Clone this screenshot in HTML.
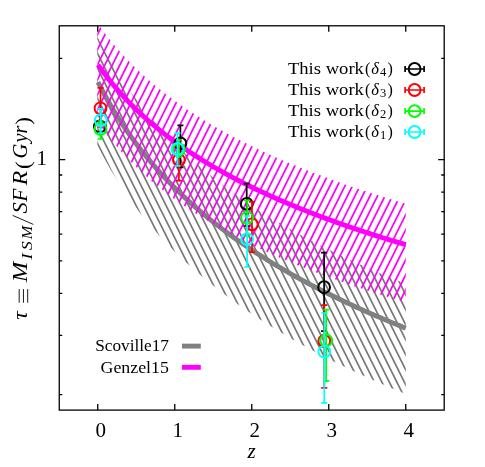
<!DOCTYPE html><html><head><meta charset="utf-8"><style>html,body{margin:0;padding:0;background:#fff}body{width:485px;height:467px;position:relative;overflow:hidden;font-family:"Liberation Serif",serif}</style></head><body><svg width="485" height="467" viewBox="0 0 485 467" style="position:absolute;left:0;top:0;will-change:transform"><defs><clipPath id="cm"><polygon points="97.30,22.79 99.87,26.46 102.44,30.01 105.01,33.45 107.58,36.79 110.15,40.03 112.72,43.18 115.29,46.25 117.86,49.23 120.43,52.14 123.00,54.98 125.57,57.74 128.14,60.44 130.72,63.08 133.29,65.65 135.86,68.17 138.43,70.63 141.00,73.04 143.57,75.40 146.14,77.71 148.71,79.98 151.28,82.20 153.85,84.38 156.42,86.51 158.99,88.61 161.56,90.67 164.13,92.69 166.70,94.68 169.27,96.63 171.84,98.55 174.41,100.44 176.98,102.29 179.55,104.12 182.12,105.91 184.69,107.68 187.26,109.43 189.83,111.14 192.41,112.83 194.98,114.50 197.55,116.14 200.12,117.75 202.69,119.35 205.26,120.92 207.83,122.47 210.40,124.00 212.97,125.51 215.54,127.00 218.11,128.47 220.68,129.92 223.25,131.36 225.82,132.77 228.39,134.17 230.96,135.55 233.53,136.92 236.10,138.26 238.67,139.60 241.24,140.91 243.81,142.22 246.38,143.50 248.95,144.78 251.52,146.03 254.10,147.28 256.67,148.51 259.24,149.73 261.81,150.93 264.38,152.13 266.95,153.31 269.52,154.47 272.09,155.63 274.66,156.77 277.23,157.91 279.80,159.03 282.37,160.14 284.94,161.24 287.51,162.33 290.08,163.41 292.65,164.48 295.22,165.54 297.79,166.59 300.36,167.63 302.93,168.66 305.50,169.68 308.07,170.69 310.64,171.70 313.21,172.69 315.79,173.68 318.36,174.65 320.93,175.62 323.50,176.58 326.07,177.54 328.64,178.48 331.21,179.42 333.78,180.35 336.35,181.27 338.92,182.19 341.49,183.09 344.06,183.99 346.63,184.89 349.20,185.77 351.77,186.65 354.34,187.53 356.91,188.39 359.48,189.25 362.05,190.11 364.62,190.95 367.19,191.79 369.76,192.63 372.33,193.46 374.90,194.28 377.48,195.09 380.05,195.91 382.62,196.71 385.19,197.51 387.76,198.30 390.33,199.09 392.90,199.88 395.47,200.65 398.04,201.43 400.61,202.19 403.18,202.95 405.75,203.71 405.75,302.31 403.18,301.55 400.61,300.79 398.04,300.03 395.47,299.25 392.90,298.48 390.33,297.69 387.76,296.90 385.19,296.11 382.62,295.31 380.05,294.51 377.48,293.69 374.90,292.88 372.33,292.06 369.76,291.23 367.19,290.39 364.62,289.55 362.05,288.71 359.48,287.85 356.91,286.99 354.34,286.13 351.77,285.25 349.20,284.37 346.63,283.49 344.06,282.59 341.49,281.69 338.92,280.79 336.35,279.87 333.78,278.95 331.21,278.02 328.64,277.08 326.07,276.14 323.50,275.18 320.93,274.22 318.36,273.25 315.79,272.28 313.21,271.29 310.64,270.30 308.07,269.29 305.50,268.28 302.93,267.26 300.36,266.23 297.79,265.19 295.22,264.14 292.65,263.08 290.08,262.01 287.51,260.93 284.94,259.84 282.37,258.74 279.80,257.63 277.23,256.51 274.66,255.37 272.09,254.23 269.52,253.07 266.95,251.91 264.38,250.73 261.81,249.53 259.24,248.33 256.67,247.11 254.10,245.88 251.52,244.63 248.95,243.38 246.38,242.10 243.81,240.82 241.24,239.51 238.67,238.20 236.10,236.86 233.53,235.52 230.96,234.15 228.39,232.77 225.82,231.37 223.25,229.96 220.68,228.52 218.11,227.07 215.54,225.60 212.97,224.11 210.40,222.60 207.83,221.07 205.26,219.52 202.69,217.95 200.12,216.35 197.55,214.74 194.98,213.10 192.41,211.43 189.83,209.74 187.26,208.03 184.69,206.28 182.12,204.51 179.55,202.72 176.98,200.89 174.41,199.04 171.84,197.15 169.27,195.23 166.70,193.28 164.13,191.29 161.56,189.27 158.99,187.21 156.42,185.11 153.85,182.98 151.28,180.80 148.71,178.58 146.14,176.31 143.57,174.00 141.00,171.64 138.43,169.23 135.86,166.77 133.29,164.25 130.72,161.68 128.14,159.04 125.57,156.34 123.00,153.58 120.43,150.74 117.86,147.83 115.29,144.85 112.72,141.78 110.15,138.63 107.58,135.39 105.01,132.05 102.44,128.61 99.87,125.06 97.30,121.39"/></clipPath><clipPath id="cg"><polygon points="97.30,36.41 99.87,41.47 102.44,46.36 105.01,51.11 107.58,55.71 110.15,60.17 112.72,64.52 115.29,68.74 117.86,72.84 120.43,76.84 123.00,80.74 125.57,84.55 128.14,88.26 130.72,91.88 133.29,95.42 135.86,98.87 138.43,102.26 141.00,105.57 143.57,108.80 146.14,111.98 148.71,115.08 151.28,118.13 153.85,121.12 156.42,124.04 158.99,126.92 161.56,129.74 164.13,132.51 166.70,135.23 169.27,137.90 171.84,140.53 174.41,143.12 176.98,145.66 179.55,148.16 182.12,150.61 184.69,153.03 187.26,155.42 189.83,157.76 192.41,160.07 194.98,162.35 197.55,164.59 200.12,166.80 202.69,168.98 205.26,171.13 207.83,173.25 210.40,175.34 212.97,177.40 215.54,179.43 218.11,181.44 220.68,183.42 223.25,185.38 225.82,187.31 228.39,189.22 230.96,191.10 233.53,192.96 236.10,194.80 238.67,196.62 241.24,198.41 243.81,200.19 246.38,201.94 248.95,203.68 251.52,205.39 254.10,207.09 256.67,208.77 259.24,210.43 261.81,212.07 264.38,213.69 266.95,215.30 269.52,216.89 272.09,218.47 274.66,220.02 277.23,221.57 279.80,223.09 282.37,224.61 284.94,226.10 287.51,227.59 290.08,229.05 292.65,230.51 295.22,231.95 297.79,233.38 300.36,234.79 302.93,236.19 305.50,237.58 308.07,238.96 310.64,240.32 313.21,241.67 315.79,243.01 318.36,244.34 320.93,245.66 323.50,246.96 326.07,248.26 328.64,249.54 331.21,250.82 333.78,252.08 336.35,253.33 338.92,254.57 341.49,255.80 344.06,257.03 346.63,258.24 349.20,259.44 351.77,260.64 354.34,261.82 356.91,263.00 359.48,264.16 362.05,265.32 364.62,266.47 367.19,267.61 369.76,268.74 372.33,269.87 374.90,270.98 377.48,272.09 380.05,273.19 382.62,274.28 385.19,275.36 387.76,276.44 390.33,277.51 392.90,278.57 395.47,279.62 398.04,280.67 400.61,281.71 403.18,282.74 405.75,283.77 405.75,393.97 403.18,392.92 400.61,391.86 398.04,390.79 395.47,389.72 392.90,388.64 390.33,387.55 387.76,386.45 385.19,385.35 382.62,384.24 380.05,383.12 377.48,381.99 374.90,380.86 372.33,379.72 369.76,378.57 367.19,377.41 364.62,376.24 362.05,375.06 359.48,373.87 356.91,372.67 354.34,371.46 351.77,370.25 349.20,369.02 346.63,367.79 344.06,366.54 341.49,365.29 338.92,364.02 336.35,362.75 333.78,361.46 331.21,360.17 328.64,358.87 326.07,357.55 323.50,356.22 320.93,354.89 318.36,353.54 315.79,352.18 313.21,350.81 310.64,349.42 308.07,348.03 305.50,346.62 302.93,345.20 300.36,343.77 297.79,342.32 295.22,340.86 292.65,339.39 290.08,337.90 287.51,336.40 284.94,334.89 282.37,333.36 279.80,331.81 277.23,330.26 274.66,328.68 272.09,327.09 269.52,325.49 266.95,323.86 264.38,322.22 261.81,320.57 259.24,318.89 256.67,317.20 254.10,315.49 251.52,313.77 248.95,312.02 246.38,310.25 243.81,308.47 241.24,306.66 238.67,304.83 236.10,302.98 233.53,301.11 230.96,299.22 228.39,297.30 225.82,295.37 223.25,293.40 220.68,291.41 218.11,289.40 215.54,287.36 212.97,285.30 210.40,283.26 207.83,281.19 205.26,279.08 202.69,276.95 200.12,274.79 197.55,272.60 194.98,270.38 192.41,268.12 189.83,265.82 187.26,263.50 184.69,261.13 182.12,258.73 179.55,256.29 176.98,253.81 174.41,251.28 171.84,248.72 169.27,246.11 166.70,243.45 164.13,240.75 161.56,238.00 158.99,235.19 156.42,232.34 153.85,229.43 151.28,226.46 148.71,223.43 146.14,220.34 143.57,217.19 141.00,213.97 138.43,210.67 135.86,207.31 133.29,203.87 130.72,200.35 128.14,196.74 125.57,193.05 123.00,189.27 120.43,185.39 117.86,181.41 115.29,177.31 112.72,173.11 110.15,168.79 107.58,164.34 105.01,159.76 102.44,155.03 99.87,150.15 97.30,145.11"/></clipPath><clipPath id="fr"><rect x="59.25" y="25.80" width="384.95" height="384.30"/></clipPath></defs><rect width="485" height="467" fill="#fff"/><rect x="59.25" y="25.80" width="384.95" height="384.30" fill="none" stroke="#000" stroke-width="1.3"/><path d="M97.75,410.10v-6M97.75,25.80v6M174.75,410.10v-6M174.75,25.80v6M251.75,410.10v-6M251.75,25.80v6M328.75,410.10v-6M328.75,25.80v6M405.75,410.10v-6M405.75,25.80v6M59.25,58.36h3M444.20,58.36h-3M59.25,174.99h3M444.20,174.99h-3M59.25,192.19h3M444.20,192.19h-3M59.25,211.69h3M444.20,211.69h-3M59.25,234.21h3M444.20,234.21h-3M59.25,260.84h3M444.20,260.84h-3M59.25,293.43h3M444.20,293.43h-3M59.25,335.44h3M444.20,335.44h-3M59.25,394.66h3M444.20,394.66h-3M59.25,159.60h6M444.20,159.60h-6" stroke="#000" stroke-width="1.3" fill="none"/><g clip-path="url(#fr)"><g clip-path="url(#cg)"><path d="M-296.70,0L-63.20,467M-289.20,0L-55.70,467M-281.70,0L-48.20,467M-274.20,0L-40.70,467M-266.70,0L-33.20,467M-259.20,0L-25.70,467M-251.70,0L-18.20,467M-244.20,0L-10.70,467M-236.70,0L-3.20,467M-229.20,0L4.30,467M-221.70,0L11.80,467M-214.20,0L19.30,467M-206.70,0L26.80,467M-199.20,0L34.30,467M-191.70,0L41.80,467M-184.20,0L49.30,467M-176.70,0L56.80,467M-169.20,0L64.30,467M-161.70,0L71.80,467M-154.20,0L79.30,467M-146.70,0L86.80,467M-139.20,0L94.30,467M-131.70,0L101.80,467M-124.20,0L109.30,467M-116.70,0L116.80,467M-109.20,0L124.30,467M-101.70,0L131.80,467M-94.20,0L139.30,467M-86.70,0L146.80,467M-79.20,0L154.30,467M-71.70,0L161.80,467M-64.20,0L169.30,467M-56.70,0L176.80,467M-49.20,0L184.30,467M-41.70,0L191.80,467M-34.20,0L199.30,467M-26.70,0L206.80,467M-19.20,0L214.30,467M-11.70,0L221.80,467M-4.20,0L229.30,467M3.30,0L236.80,467M10.80,0L244.30,467M18.30,0L251.80,467M25.80,0L259.30,467M33.30,0L266.80,467M40.80,0L274.30,467M48.30,0L281.80,467M55.80,0L289.30,467M63.30,0L296.80,467M70.80,0L304.30,467M78.30,0L311.80,467M85.80,0L319.30,467M93.30,0L326.80,467M100.80,0L334.30,467M108.30,0L341.80,467M115.80,0L349.30,467M123.30,0L356.80,467M130.80,0L364.30,467M138.30,0L371.80,467M145.80,0L379.30,467M153.30,0L386.80,467M160.80,0L394.30,467M168.30,0L401.80,467M175.80,0L409.30,467M183.30,0L416.80,467M190.80,0L424.30,467M198.30,0L431.80,467M205.80,0L439.30,467M213.30,0L446.80,467M220.80,0L454.30,467M228.30,0L461.80,467M235.80,0L469.30,467M243.30,0L476.80,467M250.80,0L484.30,467M258.30,0L491.80,467M265.80,0L499.30,467M273.30,0L506.80,467M280.80,0L514.30,467M288.30,0L521.80,467M295.80,0L529.30,467M303.30,0L536.80,467M310.80,0L544.30,467M318.30,0L551.80,467M325.80,0L559.30,467M333.30,0L566.80,467M340.80,0L574.30,467M348.30,0L581.80,467M355.80,0L589.30,467M363.30,0L596.80,467M370.80,0L604.30,467M378.30,0L611.80,467M385.80,0L619.30,467M393.30,0L626.80,467M400.80,0L634.30,467M408.30,0L641.80,467M415.80,0L649.30,467M423.30,0L656.80,467M430.80,0L664.30,467M438.30,0L671.80,467M445.80,0L679.30,467M453.30,0L686.80,467M460.80,0L694.30,467M468.30,0L701.80,467M475.80,0L709.30,467M483.30,0L716.80,467M490.80,0L724.30,467M498.30,0L731.80,467" stroke="#787878" stroke-width="1.7" fill="none"/></g><polyline points="98.00,82.20 100.56,87.20 103.13,92.05 105.69,96.74 108.26,101.30 110.82,105.72 113.39,110.02 115.95,114.20 118.52,118.27 121.08,122.24 123.65,126.10 126.21,129.87 128.78,133.55 131.34,137.14 133.90,140.65 136.47,144.09 139.03,147.44 141.60,150.73 144.16,153.94 146.73,157.09 149.29,160.18 151.86,163.21 154.42,166.17 156.99,169.08 159.55,171.94 162.11,174.74 164.68,177.49 167.24,180.20 169.81,182.86 172.37,185.47 174.94,188.04 177.50,190.56 180.07,193.05 182.63,195.49 185.20,197.90 187.76,200.27 190.32,202.61 192.89,204.90 195.45,207.17 198.02,209.40 200.58,211.60 203.15,213.77 205.71,215.91 208.28,218.02 210.84,220.10 213.41,222.15 215.97,224.17 218.54,226.17 221.10,228.14 223.66,230.09 226.23,232.02 228.79,233.91 231.36,235.79 233.92,237.64 236.49,239.48 239.05,241.29 241.62,243.07 244.18,244.84 246.75,246.59 249.31,248.32 251.88,250.03 254.44,251.72 257.00,253.39 259.57,255.04 262.13,256.68 264.70,258.29 267.26,259.90 269.83,261.48 272.39,263.05 274.96,264.60 277.52,266.14 280.09,267.66 282.65,269.17 285.21,270.66 287.78,272.14 290.34,273.60 292.91,275.05 295.47,276.49 298.04,277.91 300.60,279.32 303.17,280.72 305.73,282.10 308.30,283.47 310.86,284.83 313.43,286.18 315.99,287.52 318.55,288.84 321.12,290.16 323.68,291.46 326.25,292.75 328.81,294.03 331.38,295.30 333.94,296.56 336.51,297.81 339.07,299.05 341.64,300.27 344.20,301.49 346.76,302.70 349.33,303.90 351.89,305.09 354.46,306.27 357.02,307.45 359.59,308.61 362.15,309.77 364.72,310.91 367.28,312.05 369.85,313.18 372.41,314.30 374.98,315.41 377.54,316.52 380.10,317.61 382.67,318.70 385.23,319.78 387.80,320.86 390.36,321.92 392.93,322.98 395.49,324.03 398.06,325.08 400.62,326.12 403.19,327.15 405.75,328.17" stroke="#808080" stroke-width="4.9" fill="none"/><g clip-path="url(#cm)"><path d="M2.05,0L-231.45,467M9.56,0L-223.94,467M17.08,0L-216.42,467M24.59,0L-208.91,467M32.11,0L-201.39,467M39.62,0L-193.88,467M47.14,0L-186.36,467M54.66,0L-178.84,467M62.17,0L-171.33,467M69.69,0L-163.81,467M77.20,0L-156.30,467M84.72,0L-148.78,467M92.23,0L-141.27,467M99.75,0L-133.75,467M107.26,0L-126.24,467M114.78,0L-118.72,467M122.29,0L-111.21,467M129.81,0L-103.69,467M137.32,0L-96.18,467M144.83,0L-88.67,467M152.35,0L-81.15,467M159.86,0L-73.64,467M167.38,0L-66.12,467M174.89,0L-58.61,467M182.41,0L-51.09,467M189.92,0L-43.58,467M197.44,0L-36.06,467M204.95,0L-28.55,467M212.47,0L-21.03,467M219.98,0L-13.52,467M227.50,0L-6.00,467M235.01,0L1.51,467M242.53,0L9.03,467M250.04,0L16.54,467M257.56,0L24.06,467M265.07,0L31.57,467M272.59,0L39.09,467M280.10,0L46.60,467M287.62,0L54.12,467M295.13,0L61.63,467M302.65,0L69.15,467M310.16,0L76.66,467M317.68,0L84.18,467M325.19,0L91.69,467M332.71,0L99.21,467M340.22,0L106.72,467M347.74,0L114.24,467M355.25,0L121.75,467M362.77,0L129.27,467M370.28,0L136.78,467M377.80,0L144.30,467M385.31,0L151.81,467M392.83,0L159.33,467M400.34,0L166.84,467M407.86,0L174.36,467M415.37,0L181.87,467M422.89,0L189.39,467M430.40,0L196.90,467M437.92,0L204.42,467M445.43,0L211.93,467M452.95,0L219.45,467M460.46,0L226.96,467M467.98,0L234.48,467M475.49,0L241.99,467M483.01,0L249.51,467M490.52,0L257.02,467M498.04,0L264.54,467M505.55,0L272.05,467M513.07,0L279.57,467M520.58,0L287.08,467M528.10,0L294.60,467M535.61,0L302.11,467M543.13,0L309.63,467M550.64,0L317.14,467M558.16,0L324.66,467M565.67,0L332.17,467M573.19,0L339.69,467M580.70,0L347.20,467M588.22,0L354.72,467M595.73,0L362.23,467M603.25,0L369.75,467M610.76,0L377.26,467M618.28,0L384.78,467M625.79,0L392.29,467M633.31,0L399.81,467M640.82,0L407.32,467M648.34,0L414.84,467M655.85,0L422.35,467M663.37,0L429.87,467M670.88,0L437.38,467M678.40,0L444.90,467M685.91,0L452.41,467M693.43,0L459.93,467" stroke="#ff00ff" stroke-width="1.75" fill="none"/></g><polyline points="98.00,64.80 100.56,68.43 103.13,71.94 105.69,75.34 108.26,78.65 110.82,81.86 113.39,84.98 115.95,88.02 118.52,90.98 121.08,93.86 123.65,96.67 126.21,99.42 128.78,102.09 131.34,104.71 133.90,107.26 136.47,109.76 139.03,112.21 141.60,114.60 144.16,116.94 146.73,119.24 149.29,121.49 151.86,123.69 154.42,125.86 156.99,127.98 159.55,130.06 162.11,132.11 164.68,134.12 167.24,136.09 169.81,138.03 172.37,139.94 174.94,141.82 177.50,143.66 180.07,145.48 182.63,147.27 185.20,149.03 187.76,150.76 190.32,152.46 192.89,154.15 195.45,155.80 198.02,157.44 200.58,159.04 203.15,160.63 205.71,162.20 208.28,163.74 210.84,165.26 213.41,166.77 215.97,168.25 218.54,169.71 221.10,171.16 223.66,172.59 226.23,174.00 228.79,175.39 231.36,176.76 233.92,178.12 236.49,179.46 239.05,180.79 241.62,182.10 244.18,183.40 246.75,184.68 249.31,185.95 251.88,187.20 254.44,188.44 257.00,189.67 259.57,190.88 262.13,192.09 264.70,193.27 267.26,194.45 269.83,195.61 272.39,196.77 274.96,197.91 277.52,199.04 280.09,200.15 282.65,201.26 285.21,202.36 287.78,203.44 290.34,204.52 292.91,205.59 295.47,206.64 298.04,207.69 300.60,208.73 303.17,209.75 305.73,210.77 308.30,211.78 310.86,212.78 313.43,213.77 315.99,214.75 318.55,215.73 321.12,216.70 323.68,217.65 326.25,218.60 328.81,219.55 331.38,220.48 333.94,221.41 336.51,222.33 339.07,223.24 341.64,224.15 344.20,225.04 346.76,225.93 349.33,226.82 351.89,227.70 354.46,228.57 357.02,229.43 359.59,230.29 362.15,231.14 364.72,231.98 367.28,232.82 369.85,233.65 372.41,234.48 374.98,235.30 377.54,236.12 380.10,236.92 382.67,237.73 385.23,238.52 387.80,239.32 390.36,240.10 392.93,240.88 395.49,241.66 398.06,242.43 400.62,243.20 403.19,243.96 405.75,244.71" stroke="#ff00ff" stroke-width="4.9" fill="none"/></g><circle cx="99.90" cy="126.50" r="5.9" stroke="#000" stroke-width="2" fill="none"/><path d="M180.40,125.30V167.40M177.40,125.30h6M177.40,167.40h6" stroke="#000" stroke-width="1.7" fill="none"/><circle cx="180.40" cy="143.40" r="5.9" stroke="#000" stroke-width="2" fill="none"/><path d="M246.70,183.60V226.00M243.70,183.60h6M243.70,226.00h6" stroke="#000" stroke-width="1.7" fill="none"/><circle cx="246.70" cy="203.90" r="5.9" stroke="#000" stroke-width="2" fill="none"/><path d="M324.10,252.70V331.20M321.10,252.70h6M321.10,331.20h6" stroke="#000" stroke-width="1.7" fill="none"/><circle cx="324.10" cy="287.20" r="5.9" stroke="#000" stroke-width="2" fill="none"/><path d="M100.50,87.80V127.00M97.50,87.80h6M97.50,127.00h6" stroke="#ff0000" stroke-width="1.7" fill="none"/><circle cx="100.50" cy="108.30" r="5.9" stroke="#ff0000" stroke-width="2" fill="none"/><path d="M178.90,140.90V180.70M175.90,140.90h6M175.90,180.70h6" stroke="#ff0000" stroke-width="1.7" fill="none"/><circle cx="178.90" cy="159.90" r="5.9" stroke="#ff0000" stroke-width="2" fill="none"/><path d="M252.00,201.80V252.10M249.00,201.80h6M249.00,252.10h6" stroke="#ff0000" stroke-width="1.7" fill="none"/><circle cx="252.00" cy="224.30" r="5.9" stroke="#ff0000" stroke-width="2" fill="none"/><path d="M324.30,305.20V387.80M321.30,305.20h6M321.30,387.80h6" stroke="#ff0000" stroke-width="1.7" fill="none"/><circle cx="324.30" cy="341.00" r="5.9" stroke="#ff0000" stroke-width="2" fill="none"/><path d="M100.50,121.00V139.00M97.50,121.00h6M97.50,139.00h6" stroke="#00ff00" stroke-width="1.7" fill="none"/><circle cx="100.50" cy="129.00" r="5.9" stroke="#00ff00" stroke-width="2" fill="none"/><path d="M178.90,140.00V157.00M175.90,140.00h6M175.90,157.00h6" stroke="#00ff00" stroke-width="1.7" fill="none"/><circle cx="178.90" cy="149.50" r="5.9" stroke="#00ff00" stroke-width="2" fill="none"/><path d="M247.10,200.30V236.00M244.10,200.30h6M244.10,236.00h6" stroke="#00ff00" stroke-width="1.7" fill="none"/><circle cx="247.10" cy="217.80" r="5.9" stroke="#00ff00" stroke-width="2" fill="none"/><path d="M326.20,309.60V381.10M323.20,309.60h6M323.20,381.10h6" stroke="#00ff00" stroke-width="1.7" fill="none"/><circle cx="326.20" cy="340.30" r="5.9" stroke="#00ff00" stroke-width="2" fill="none"/><path d="M100.80,108.80V133.00M97.80,108.80h6M97.80,133.00h6" stroke="#00ffff" stroke-width="1.7" fill="none"/><circle cx="100.80" cy="120.10" r="5.9" stroke="#00ffff" stroke-width="2" fill="none"/><path d="M177.50,133.20V165.90M174.50,133.20h6M174.50,165.90h6" stroke="#00ffff" stroke-width="1.7" fill="none"/><circle cx="177.50" cy="149.00" r="5.9" stroke="#00ffff" stroke-width="2" fill="none"/><path d="M247.10,216.00V267.00M244.10,216.00h6M244.10,267.00h6" stroke="#00ffff" stroke-width="1.7" fill="none"/><circle cx="247.10" cy="239.20" r="5.9" stroke="#00ffff" stroke-width="2" fill="none"/><path d="M324.30,313.00V402.90M321.30,313.00h6M321.30,402.90h6" stroke="#00ffff" stroke-width="1.7" fill="none"/><circle cx="324.30" cy="351.70" r="5.9" stroke="#00ffff" stroke-width="2" fill="none"/><path d="M405.10,69.00H424.10M405.10,66.00v6M424.10,66.00v6" stroke="#000" stroke-width="1.7" fill="none"/><circle cx="414.60" cy="69.00" r="5.9" stroke="#000" stroke-width="2" fill="none"/><path d="M405.10,90.00H424.10M405.10,87.00v6M424.10,87.00v6" stroke="#ff0000" stroke-width="1.7" fill="none"/><circle cx="414.60" cy="90.00" r="5.9" stroke="#ff0000" stroke-width="2" fill="none"/><path d="M405.10,111.10H424.10M405.10,108.10v6M424.10,108.10v6" stroke="#00ff00" stroke-width="1.7" fill="none"/><circle cx="414.60" cy="111.10" r="5.9" stroke="#00ff00" stroke-width="2" fill="none"/><path d="M405.10,132.00H424.10M405.10,129.00v6M424.10,129.00v6" stroke="#00ffff" stroke-width="1.7" fill="none"/><circle cx="414.60" cy="132.00" r="5.9" stroke="#00ffff" stroke-width="2" fill="none"/><path d="M182,346.1H200.8" stroke="#808080" stroke-width="4.9"/><path d="M182,367.3H200.8" stroke="#ff00ff" stroke-width="4.9"/><text x="287.9" y="73.5" font-family="Liberation Serif" font-size="16" textLength="76" lengthAdjust="spacingAndGlyphs">This work</text><text x="365" y="73.5" font-family="Liberation Serif" font-size="16">(</text><text x="371.3" y="73.5" font-family="Liberation Serif" font-size="16.5" font-style="italic">δ</text><text x="380" y="76.1" font-family="Liberation Serif" font-size="12.5">4</text><text x="387.6" y="73.5" font-family="Liberation Serif" font-size="16">)</text><text x="287.9" y="94.6" font-family="Liberation Serif" font-size="16" textLength="76" lengthAdjust="spacingAndGlyphs">This work</text><text x="365" y="94.6" font-family="Liberation Serif" font-size="16">(</text><text x="371.3" y="94.6" font-family="Liberation Serif" font-size="16.5" font-style="italic">δ</text><text x="380" y="97.2" font-family="Liberation Serif" font-size="12.5">3</text><text x="387.6" y="94.6" font-family="Liberation Serif" font-size="16">)</text><text x="287.9" y="115.7" font-family="Liberation Serif" font-size="16" textLength="76" lengthAdjust="spacingAndGlyphs">This work</text><text x="365" y="115.7" font-family="Liberation Serif" font-size="16">(</text><text x="371.3" y="115.7" font-family="Liberation Serif" font-size="16.5" font-style="italic">δ</text><text x="380" y="118.3" font-family="Liberation Serif" font-size="12.5">2</text><text x="387.6" y="115.7" font-family="Liberation Serif" font-size="16">)</text><text x="287.9" y="136.8" font-family="Liberation Serif" font-size="16" textLength="76" lengthAdjust="spacingAndGlyphs">This work</text><text x="365" y="136.8" font-family="Liberation Serif" font-size="16">(</text><text x="371.3" y="136.8" font-family="Liberation Serif" font-size="16.5" font-style="italic">δ</text><text x="380" y="139.4" font-family="Liberation Serif" font-size="12.5">1</text><text x="387.6" y="136.8" font-family="Liberation Serif" font-size="16">)</text><text x="168.9" y="351.4" text-anchor="end" font-family="Liberation Serif" font-size="16" textLength="73.7" lengthAdjust="spacingAndGlyphs">Scoville17</text><text x="168.9" y="372.9" text-anchor="end" font-family="Liberation Serif" font-size="16" textLength="68.4" lengthAdjust="spacingAndGlyphs">Genzel15</text><text x="100.75" y="436.8" text-anchor="middle" font-family="Liberation Serif" font-size="21">0</text><text x="177.75" y="436.8" text-anchor="middle" font-family="Liberation Serif" font-size="21">1</text><text x="254.75" y="436.8" text-anchor="middle" font-family="Liberation Serif" font-size="21">2</text><text x="331.75" y="436.8" text-anchor="middle" font-family="Liberation Serif" font-size="21">3</text><text x="408.75" y="436.8" text-anchor="middle" font-family="Liberation Serif" font-size="21">4</text><text x="41.8" y="165" text-anchor="middle" font-family="Liberation Serif" font-size="21">1</text><text x="251.7" y="458" text-anchor="middle" font-family="Liberation Serif" font-size="21" font-style="italic">z</text><path d="M19.2,289.1V302.7M23.45,289.1V302.7M27.7,289.1V302.7" stroke="#000" stroke-width="0.9" fill="none"/><path d="M33.3,224.4L12.7,215.4" stroke="#000" stroke-width="0.9" fill="none"/><text transform="translate(27.30,315.60) rotate(-90) scale(1.150,1)" x="0" y="0" text-anchor="middle" font-family="Liberation Serif" font-size="20.5" font-style="italic" >τ</text><text transform="translate(27.30,272.10) rotate(-90) scale(1.200,1)" x="0" y="0" text-anchor="middle" font-family="Liberation Serif" font-size="20.5" font-style="italic" >M</text><text transform="translate(31.90,256.40) rotate(-90) scale(1.250,1)" x="0" y="0" text-anchor="middle" font-family="Liberation Serif" font-size="15.5" font-style="italic" >I</text><text transform="translate(31.90,245.90) rotate(-90) scale(1.150,1)" x="0" y="0" text-anchor="middle" font-family="Liberation Serif" font-size="15.5" font-style="italic" >S</text><text transform="translate(31.90,232.60) rotate(-90) scale(1.050,1)" x="0" y="0" text-anchor="middle" font-family="Liberation Serif" font-size="15.5" font-style="italic" >M</text><text transform="translate(27.30,207.85) rotate(-90) scale(1.100,1)" x="0" y="0" text-anchor="middle" font-family="Liberation Serif" font-size="20.5" font-style="italic" >S</text><text transform="translate(27.30,195.20) rotate(-90) scale(1.050,1)" x="0" y="0" text-anchor="middle" font-family="Liberation Serif" font-size="20.5" font-style="italic" >F</text><text transform="translate(27.30,178.00) rotate(-90) scale(1.150,1)" x="0" y="0" text-anchor="middle" font-family="Liberation Serif" font-size="20.5" font-style="italic" >R</text><text transform="translate(29.80,165.20) rotate(-90) scale(1.100,1)" x="0" y="0" text-anchor="middle" font-family="Liberation Serif" font-size="21.0" >(</text><text transform="translate(27.30,151.10) rotate(-90) scale(1.000,1)" x="0" y="0" text-anchor="middle" font-family="Liberation Serif" font-size="20.5" font-style="italic" >G</text><text transform="translate(27.30,138.00) rotate(-90) scale(1.000,1)" x="0" y="0" text-anchor="middle" font-family="Liberation Serif" font-size="20.5" font-style="italic" >y</text><text transform="translate(27.30,129.50) rotate(-90) scale(1.000,1)" x="0" y="0" text-anchor="middle" font-family="Liberation Serif" font-size="20.5" font-style="italic" >r</text><text transform="translate(29.80,121.00) rotate(-90) scale(1.100,1)" x="0" y="0" text-anchor="middle" font-family="Liberation Serif" font-size="21.0" >)</text></svg></body></html>
